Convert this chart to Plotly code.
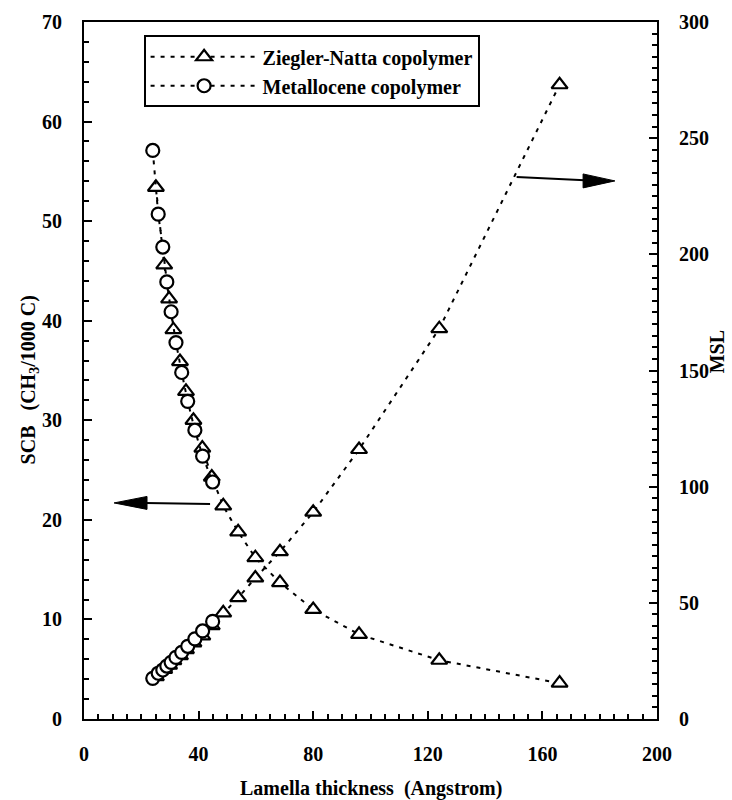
import plotly.graph_objects as go

# Ziegler-Natta copolymer
zn_thickness = [25.1, 28.0, 29.7, 31.2, 33.5, 35.6, 38.2, 41.3, 44.6, 48.6, 53.8, 59.8, 68.4, 80.0, 96.0, 124.0, 166.0]
zn_scb = [53.4, 45.6, 42.2, 39.1, 35.9, 32.9, 30.0, 27.2, 24.3, 21.4, 18.8, 16.2, 13.7, 11.0, 8.5, 5.9, 3.6]
zn_msl = [18.2, 21.4, 23.2, 25.1, 27.3, 29.9, 32.8, 35.8, 40.2, 45.7, 52.2, 60.7, 72.0, 89.0, 116.0, 168.0, 273.0]

# Metallocene copolymer
met_thickness = [24.0, 25.9, 27.5, 28.9, 30.4, 32.1, 34.1, 36.2, 38.7, 41.4, 44.9]
met_scb = [57.1, 50.7, 47.4, 43.9, 40.9, 37.8, 34.8, 31.9, 29.0, 26.4, 23.8]
met_msl = [17.5, 19.7, 21.1, 22.8, 24.4, 26.5, 28.7, 31.3, 34.5, 37.9, 42.0]

# Tick labels
x_ticks = [0, 40, 80, 120, 160, 200]
y_ticks = [0, 10, 20, 30, 40, 50, 60, 70]
y2_ticks = [0, 50, 100, 150, 200, 250, 300]

FONT = "Liberation Serif"
DASH = "4px,6px"
NB = "\u00a0"

fig = go.Figure()

def add(x, y, yaxis, symbol, size, name, show):
    fig.add_trace(go.Scatter(
        x=x, y=y, yaxis=yaxis, mode="lines+markers", name=name,
        legendgroup=name, showlegend=show,
        line=dict(color="black", width=2, dash=DASH),
        marker=dict(symbol=symbol, size=size, color="white",
                    line=dict(width=2.2, color="black")),
    ))

add(zn_thickness, zn_msl, "y2", "triangle-up", 14, "Ziegler-Natta copolymer", False)
add(met_thickness, met_msl, "y2", "circle", 13, "Metallocene copolymer", False)
add(zn_thickness, zn_scb, "y", "triangle-up", 14, "Ziegler-Natta copolymer", True)
add(met_thickness, met_scb, "y", "circle", 13, "Metallocene copolymer", True)

tickfont = dict(family=FONT, size=20, color="black", weight="bold")
minor_common = dict(ticks="inside", ticklen=5, tickwidth=1.5, tickcolor="black", showgrid=False)

def bold(vals):
    return ["<b>%d</b>" % v for v in vals]

fig.update_layout(
    width=732, height=800,
    margin=dict(l=84, r=75, t=22, b=81),
    plot_bgcolor="white", paper_bgcolor="white",
    font=dict(family=FONT, color="black"),
    xaxis=dict(range=[0, 200], tickvals=x_ticks, ticktext=bold(x_ticks), showline=True,
               linecolor="black", linewidth=2, mirror=True, ticks="inside", ticklen=8,
               tickwidth=2, tickcolor="black", showgrid=False, zeroline=False,
               tickfont=tickfont, ticklabelstandoff=16,
               minor=dict(dtick=5, tick0=0, **minor_common)),
    yaxis=dict(range=[0, 70], tickvals=y_ticks, ticktext=bold(y_ticks), showline=True,
               linecolor="black", linewidth=2, ticks="inside", ticklen=8, tickwidth=2,
               tickcolor="black", showgrid=False, zeroline=False, tickfont=tickfont,
               ticklabelstandoff=16, minor=dict(dtick=2, tick0=0, **minor_common)),
    yaxis2=dict(range=[0, 300], tickvals=y2_ticks, ticktext=bold(y2_ticks), overlaying="y",
                side="right", showline=True, linecolor="black", linewidth=2, ticks="inside",
                ticklen=8, tickwidth=2, tickcolor="black", showgrid=False, zeroline=False,
                tickfont=tickfont, ticklabelstandoff=16,
                minor=dict(dtick=5, tick0=0, **minor_common)),
    legend=dict(x=0.104, y=0.981, xanchor="left", yanchor="top", bgcolor="white",
                bordercolor="black", borderwidth=2, itemwidth=107,
                font=dict(family=FONT, size=20, color="black", weight="bold"),
                tracegroupgap=0, traceorder="normal"),
    showlegend=True,
)

title_font = dict(family=FONT, size=20, color="black", weight="bold")

fig.add_annotation(text="<b>Lamella thickness" + NB * 2 + "(Angstrom)</b>", xref="paper", yref="paper",
                   x=0.5, y=-0.1, yanchor="middle", showarrow=False, font=title_font)
fig.add_annotation(text="<b>SCB" + NB * 3 + "(CH<sub>3</sub>/1000 C)</b>", xref="paper", yref="paper",
                   x=-0.121, y=0.486, textangle=-90, showarrow=False, font=title_font)
fig.add_annotation(text="<b>MSL</b>", xref="paper", yref="paper",
                   x=1.128, y=0.5265, textangle=-90, showarrow=False, font=title_font)

# Arrows pointing to the axis each curve belongs to (shaft + slender filled head)
fig.add_shape(type="line", xref="x", yref="y", x0=44.0, y0=21.6, x1=21.5, y1=21.7,
              line=dict(color="black", width=2))
fig.add_shape(type="path", xref="x", yref="y",
              path="M 10.5,21.7 L 22.0,22.35 L 22.0,21.05 Z",
              fillcolor="black", line=dict(color="black", width=1))
fig.add_shape(type="line", xref="x", yref="y2", x0=151.0, y0=233.3, x1=174.8, y1=231.9,
              line=dict(color="black", width=2))
fig.add_shape(type="path", xref="x", yref="y2",
              path="M 185.3,231.6 L 174.2,234.6 L 174.2,228.6 Z",
              fillcolor="black", line=dict(color="black", width=1))

fig.write_html("out.html")
